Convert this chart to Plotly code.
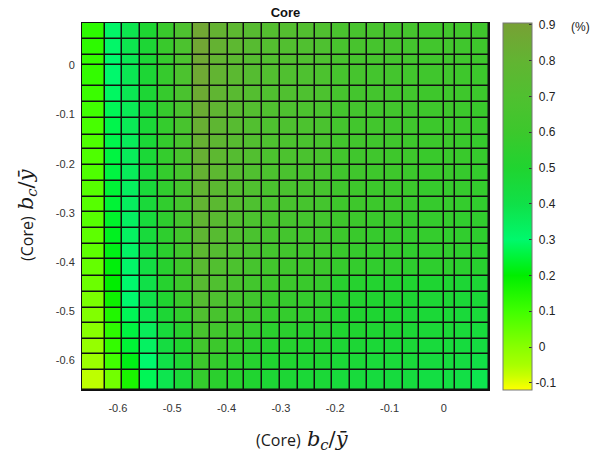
import plotly.graph_objects as go

# Cell edges of the grid (pcolor-style vertices)
x_edges = [-0.666, -0.624, -0.592, -0.559, -0.527, -0.495, -0.462, -0.430,
           -0.398, -0.367, -0.334, -0.301, -0.269, -0.237, -0.206, -0.173,
           -0.141, -0.109, -0.076, -0.045, 0.000, 0.020, 0.051, 0.083]
y_edges = [-0.660, -0.619, -0.587, -0.556, -0.523, -0.493, -0.460, -0.428,
           -0.394, -0.364, -0.331, -0.299, -0.267, -0.236, -0.203, -0.171,
           -0.141, -0.108, -0.075, -0.043, 0.000, 0.021, 0.053, 0.086]

# Cell values (%), rows from bottom (lowest y) to top
z_values = [
    [-0.07, 0.03, 0.16, 0.28, 0.38, 0.46, 0.57, 0.54, 0.52, 0.50, 0.48, 0.48, 0.47, 0.47, 0.45, 0.45, 0.44, 0.44, 0.44, 0.42, 0.42, 0.41, 0.38],
    [-0.03, 0.10, 0.22, 0.30, 0.40, 0.48, 0.60, 0.57, 0.54, 0.52, 0.50, 0.50, 0.49, 0.49, 0.47, 0.47, 0.46, 0.46, 0.46, 0.44, 0.44, 0.43, 0.41],
    [-0.02, 0.12, 0.25, 0.33, 0.43, 0.50, 0.63, 0.60, 0.57, 0.54, 0.52, 0.52, 0.51, 0.51, 0.48, 0.48, 0.47, 0.47, 0.47, 0.45, 0.45, 0.44, 0.43],
    [0.00, 0.13, 0.26, 0.35, 0.45, 0.53, 0.66, 0.63, 0.60, 0.57, 0.54, 0.54, 0.53, 0.53, 0.50, 0.50, 0.49, 0.49, 0.48, 0.47, 0.47, 0.46, 0.45],
    [0.01, 0.15, 0.28, 0.38, 0.48, 0.56, 0.70, 0.66, 0.63, 0.60, 0.57, 0.57, 0.56, 0.55, 0.51, 0.50, 0.49, 0.49, 0.48, 0.47, 0.47, 0.46, 0.46],
    [0.02, 0.18, 0.30, 0.40, 0.50, 0.59, 0.73, 0.69, 0.65, 0.62, 0.59, 0.58, 0.57, 0.56, 0.52, 0.51, 0.50, 0.50, 0.49, 0.48, 0.48, 0.47, 0.47],
    [0.04, 0.20, 0.30, 0.40, 0.52, 0.60, 0.74, 0.70, 0.66, 0.63, 0.61, 0.60, 0.59, 0.58, 0.53, 0.52, 0.51, 0.51, 0.50, 0.49, 0.49, 0.48, 0.48],
    [0.05, 0.21, 0.31, 0.42, 0.53, 0.61, 0.75, 0.71, 0.68, 0.65, 0.63, 0.62, 0.61, 0.60, 0.58, 0.57, 0.56, 0.56, 0.55, 0.55, 0.55, 0.54, 0.53],
    [0.06, 0.22, 0.32, 0.44, 0.54, 0.62, 0.77, 0.73, 0.69, 0.66, 0.64, 0.63, 0.62, 0.61, 0.59, 0.58, 0.57, 0.57, 0.56, 0.56, 0.56, 0.55, 0.54],
    [0.06, 0.23, 0.33, 0.45, 0.55, 0.63, 0.78, 0.74, 0.70, 0.67, 0.65, 0.64, 0.63, 0.62, 0.60, 0.59, 0.58, 0.58, 0.57, 0.57, 0.56, 0.56, 0.55],
    [0.07, 0.24, 0.33, 0.45, 0.55, 0.64, 0.79, 0.75, 0.71, 0.68, 0.66, 0.65, 0.64, 0.63, 0.61, 0.60, 0.59, 0.59, 0.58, 0.57, 0.57, 0.56, 0.56],
    [0.07, 0.25, 0.34, 0.46, 0.56, 0.64, 0.80, 0.76, 0.72, 0.69, 0.67, 0.66, 0.65, 0.64, 0.61, 0.61, 0.60, 0.60, 0.59, 0.58, 0.58, 0.57, 0.56],
    [0.07, 0.25, 0.34, 0.46, 0.56, 0.65, 0.80, 0.76, 0.72, 0.70, 0.67, 0.67, 0.66, 0.65, 0.62, 0.61, 0.60, 0.60, 0.60, 0.58, 0.58, 0.58, 0.57],
    [0.08, 0.26, 0.35, 0.46, 0.57, 0.65, 0.81, 0.77, 0.73, 0.70, 0.68, 0.67, 0.66, 0.65, 0.62, 0.62, 0.61, 0.61, 0.60, 0.59, 0.59, 0.58, 0.57],
    [0.08, 0.26, 0.35, 0.47, 0.57, 0.66, 0.82, 0.77, 0.73, 0.71, 0.68, 0.68, 0.67, 0.66, 0.63, 0.62, 0.62, 0.61, 0.61, 0.59, 0.59, 0.59, 0.58],
    [0.08, 0.27, 0.35, 0.47, 0.57, 0.66, 0.82, 0.78, 0.74, 0.71, 0.69, 0.68, 0.67, 0.66, 0.63, 0.63, 0.62, 0.62, 0.61, 0.60, 0.60, 0.59, 0.58],
    [0.09, 0.27, 0.36, 0.47, 0.57, 0.66, 0.83, 0.78, 0.74, 0.71, 0.69, 0.69, 0.68, 0.67, 0.64, 0.63, 0.63, 0.62, 0.62, 0.60, 0.60, 0.60, 0.59],
    [0.10, 0.28, 0.36, 0.47, 0.58, 0.67, 0.84, 0.79, 0.75, 0.72, 0.70, 0.69, 0.68, 0.67, 0.64, 0.64, 0.63, 0.63, 0.62, 0.61, 0.61, 0.60, 0.59],
    [0.11, 0.29, 0.37, 0.48, 0.58, 0.67, 0.85, 0.79, 0.75, 0.72, 0.70, 0.70, 0.69, 0.68, 0.65, 0.64, 0.64, 0.63, 0.63, 0.61, 0.61, 0.61, 0.60],
    [0.12, 0.30, 0.37, 0.48, 0.58, 0.68, 0.86, 0.80, 0.76, 0.73, 0.71, 0.70, 0.69, 0.68, 0.65, 0.65, 0.64, 0.64, 0.63, 0.62, 0.62, 0.61, 0.60],
    [0.12, 0.30, 0.37, 0.48, 0.58, 0.68, 0.86, 0.80, 0.76, 0.73, 0.71, 0.71, 0.70, 0.69, 0.66, 0.65, 0.65, 0.64, 0.64, 0.62, 0.62, 0.62, 0.61],
    [0.13, 0.31, 0.38, 0.48, 0.59, 0.68, 0.87, 0.81, 0.77, 0.74, 0.72, 0.71, 0.70, 0.69, 0.66, 0.66, 0.65, 0.65, 0.64, 0.63, 0.63, 0.62, 0.61],
    [0.13, 0.31, 0.38, 0.49, 0.59, 0.69, 0.87, 0.81, 0.77, 0.74, 0.72, 0.72, 0.71, 0.70, 0.67, 0.66, 0.66, 0.65, 0.65, 0.63, 0.63, 0.63, 0.62],
]

axis_ticks = [-0.6, -0.5, -0.4, -0.3, -0.2, -0.1, 0.0]
axis_ticktext = ["-0.6", "-0.5", "-0.4", "-0.3", "-0.2", "-0.1", "0"]
cbar_ticks = [-0.1, 0.0, 0.1, 0.2, 0.3, 0.4, 0.5, 0.6, 0.7, 0.8, 0.9]
cbar_ticktext = ["-0.1", "0", "0.1", "0.2", "0.3", "0.4", "0.5", "0.6", "0.7", "0.8", "0.9"]

c_min, c_max = -0.12, 0.905

# Yellow -> green -> olive map, stops given in data units
cmap_stops = [
    (-0.12, "#ffff00"), (-0.08, "#c8ff00"), (-0.05, "#a8ff00"), (0.0, "#88ff00"),
    (0.1, "#40ff00"), (0.2, "#00ee00"), (0.3, "#00f86c"), (0.4, "#10e048"),
    (0.5, "#20d430"), (0.6, "#3cc82c"), (0.7, "#50c030"), (0.8, "#62b432"),
    (0.905, "#78a035"),
]
colorscale = [[(v - c_min) / (c_max - c_min), c] for v, c in cmap_stops]

# Positive colorbar labels sit a little right of the minus-signed one
cbar_labels = [t if t.startswith("-") else "\u00a0" + t for t in cbar_ticktext]

W, H = 592, 458
L, R, T, B = 82, 103, 23, 68
pw, ph = W - L - R, H - T - B

fig = go.Figure(go.Heatmap(
    x=x_edges, y=y_edges, z=z_values,
    zmin=c_min, zmax=c_max, colorscale=colorscale,
    xgap=1.5, ygap=1.5,
    colorbar=dict(
        x=(503 - L) / pw, xanchor="left", xpad=0,
        y=0.5, yanchor="middle", len=1, lenmode="fraction", ypad=0,
        thickness=29, thicknessmode="pixels",
        outlinecolor="#777777", outlinewidth=1,
        ticks="inside", ticklen=3, tickcolor="#333333",
        tickvals=cbar_ticks, ticktext=cbar_labels,
        tickfont=dict(family="Liberation Sans, Arial", size=12, color="#222222"),
    ),
))

fig.update_layout(
    width=W, height=H,
    margin=dict(l=L, r=R, t=T, b=B),
    paper_bgcolor="white", plot_bgcolor="#111111",
    title=dict(text="<b>Core</b>", x=(L + pw / 2) / W, xanchor="center",
               y=1 - 12 / H, yanchor="middle",
               font=dict(family="Liberation Sans, Arial", size=13, color="#111111")),
    xaxis=dict(range=[x_edges[0], x_edges[-1]], tickvals=axis_ticks, ticktext=axis_ticktext,
               showgrid=False, zeroline=False, ticks="", ticklabelstandoff=8,
               showline=True, linecolor="#111111", linewidth=1, mirror=True,
               tickfont=dict(family="Liberation Sans, Arial", size=11, color="#333333")),
    yaxis=dict(range=[y_edges[0], y_edges[-1]], tickvals=axis_ticks, ticktext=axis_ticktext,
               showgrid=False, zeroline=False, ticks="", ticklabelstandoff=4,
               showline=True, linecolor="#111111", linewidth=1, mirror=True,
               tickfont=dict(family="Liberation Sans, Arial", size=11, color="#333333")),
)

label = ('<span style="font-family:Open Sans, Lato, sans-serif;font-size:16px">(Core)</span>'
         '  <span style="font-family:DejaVu Serif, Liberation Serif, serif;font-size:21px">'
         '<i>b</i><sub><i>c</i></sub>/<i>ȳ</i></span>')

fig.add_annotation(text=label, xref="paper", yref="paper",
                   x=(302 - L) / pw, y=(H - B - 440) / ph, xanchor="center", yanchor="middle",
                   showarrow=False, font=dict(color="#1a1a1a"))
fig.add_annotation(text=label, xref="paper", yref="paper", textangle=-90,
                   x=(27 - L) / pw, y=(H - B - 215) / ph, xanchor="center", yanchor="middle",
                   showarrow=False, font=dict(color="#1a1a1a"))
fig.add_annotation(text="(%)", xref="paper", yref="paper",
                   x=(580 - L) / pw, y=(H - B - 27) / ph, xanchor="center", yanchor="middle",
                   showarrow=False,
                   font=dict(family="Liberation Sans, Arial", size=12, color="#222222"))

fig.write_html("out.html")
